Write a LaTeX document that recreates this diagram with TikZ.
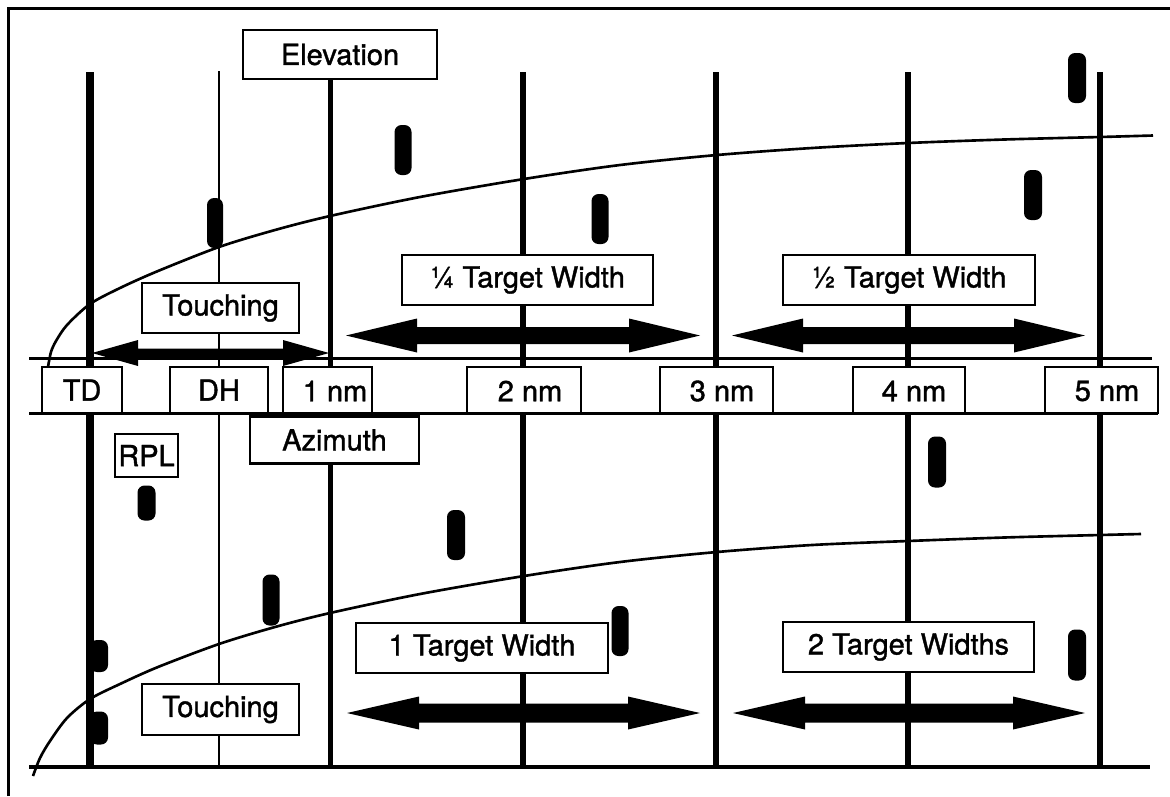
\documentclass[tikz,border=0pt]{standalone}
\usepackage{fontspec}
\setmainfont[FakeBold=1.3]{TeX Gyre Heros}
\usetikzlibrary{calc}
\newcommand\fatarr[6]{% x1 x2 y halfshaft halfhead headlength
  \fill (#1,#3) -- (#1+#6,#3-#5) -- (#1+#6,#3-#4) -- (#2-#6,#3-#4) -- (#2-#6,#3-#5) -- (#2,#3)
     -- (#2-#6,#3+#5) -- (#2-#6,#3+#4) -- (#1+#6,#3+#4) -- (#1+#6,#3+#5) -- cycle;}
\newcommand\blipat[4]{% cx cy w h
  \fill[rounded corners=0.14cm] (#1-#3/2,#2-#4/2) rectangle (#1+#3/2,#2+#4/2);}
\begin{document}
\begin{tikzpicture}[x=0.02cm,y=-0.02cm,
  lbl/.style={draw,line width=1.5pt,fill=white,inner sep=0pt,
    font=\fontsize{16.5}{18}\selectfont},
  txt/.style={inner sep=0pt,font=\fontsize{16.5}{18}\selectfont},
  gridthick/.style={line width=3.4pt},
  hline/.style={line width=1.7pt},
  curve/.style={line width=1.5pt}]
\useasboundingbox (0,0) rectangle (1170,796);
% frame
\draw[line width=1.7pt] (8.5,796) -- (8.5,8.5) -- (1170,8.5);
% horizontal lines
\draw[hline] (29,358.5) -- (1152,358.5);
\draw[hline] (29,413.5) -- (1158,413.5);
\draw[line width=2pt] (29,767) -- (1150,767);
% vertical lines
\draw[line width=4.5pt] (90,72) -- (90,768);
\draw[line width=1.7pt] (219,71) -- (219,767);
\draw[gridthick] (330.5,79) -- (330.5,768);
\draw[gridthick] (523,72) -- (523,768);
\draw[gridthick] (716,72) -- (716,768);
\draw[gridthick] (908,72) -- (908,768);
\draw[gridthick] (1100,72) -- (1100,768);
% curves
\draw[curve] plot[smooth,tension=0.5] coordinates {(48,367) (51,352) (56,341) (67,325) (90,304) (120,288) (158,271) (219,247) (275,230) (330,216) (420,197) (524,179) (620,165) (717,155) (812,148) (908,143) (1004,139.5) (1100,137) (1153,135.5)};
\draw[curve] plot[smooth,tension=0.5] coordinates {(33,776) (40,758) (50,741) (67,718) (90,699) (120,684) (158,667) (219,644) (275,627) (330,613) (420,594) (524,576) (620,562) (717,552) (812,545) (908,541) (1004,537.5) (1100,535) (1141,534)};
% label boxes
\node[lbl,minimum width=3.88cm,minimum height=0.98cm] (elev) at (340,54.5) {Elevation};
\node[lbl,minimum width=3.14cm,minimum height=1.0cm] (touchup) at (220.5,308) {Touching};
\node[lbl,minimum width=5.02cm,minimum height=1.0cm] (quarter) at (527.5,280) {¼ Target Width};
\node[lbl,minimum width=5.04cm,minimum height=1.0cm] (half) at (909,280) {½ Target Width};
\node[lbl,minimum width=1.60cm,minimum height=0.92cm] (td) at (82,390) {TD};
\node[lbl,minimum width=1.96cm,minimum height=0.92cm] (dh) at (219,390) {DH};
\node[lbl,minimum width=1.78cm,minimum height=0.92cm] (b1) at (327.5,390) {};
\node[txt] (t1) at (335,391) {1 nm};
\node[lbl,minimum width=2.28cm,minimum height=0.92cm] (b2) at (524,390) {};
\node[txt] (t2) at (530,391) {2 nm};
\node[lbl,minimum width=2.26cm,minimum height=0.92cm] (b3) at (716.5,390) {};
\node[txt] (t3) at (722,391) {3 nm};
\node[lbl,minimum width=2.24cm,minimum height=0.92cm] (b4) at (909,390) {};
\node[txt] (t4) at (914,391) {4 nm};
\node[lbl,minimum width=2.26cm,minimum height=0.92cm] (b5) at (1101.5,390) {};
\node[txt] (t5) at (1107,391) {5 nm};
\node[lbl,minimum width=3.38cm,minimum height=0.94cm] (azi) at (334.5,440) {Azimuth};
\node[lbl,minimum width=1.26cm,minimum height=0.86cm] (rpl) at (146.5,455.5) {RPL};
\node[lbl,minimum width=5.04cm,minimum height=1.0cm] (one) at (482,648) {1 Target Width};
\node[lbl,minimum width=5.02cm,minimum height=1.0cm] (two) at (908.5,647) {2 Target Widths};
\node[lbl,minimum width=3.14cm,minimum height=1.02cm] (touchlo) at (220.5,709.5) {Touching};
% fat double arrows
\fatarr{92}{329}{353}{4.5}{13}{46}
\fatarr{346}{700}{335.5}{8.5}{17}{71}
\fatarr{732}{1085}{335.5}{8.5}{17}{71}
\fatarr{347}{700}{713}{9.5}{16.5}{72}
\fatarr{733}{1085}{713}{9.5}{16.5}{72}
% blips
\blipat{215}{223}{16}{50}
\blipat{403}{150}{17}{50}
\blipat{600}{219}{17}{50}
\blipat{1077}{78}{18}{50}
\blipat{1033}{195}{18}{50}
\blipat{146.5}{503}{18}{35}
\blipat{271}{600}{17}{51}
\blipat{456}{535}{18}{50}
\blipat{620}{631}{17}{50}
\blipat{937}{462}{18}{51}
\blipat{1077}{655}{18}{51}
\blipat{99}{656}{18}{32}
\blipat{99}{728}{18}{33}
\end{tikzpicture}
\end{document}
